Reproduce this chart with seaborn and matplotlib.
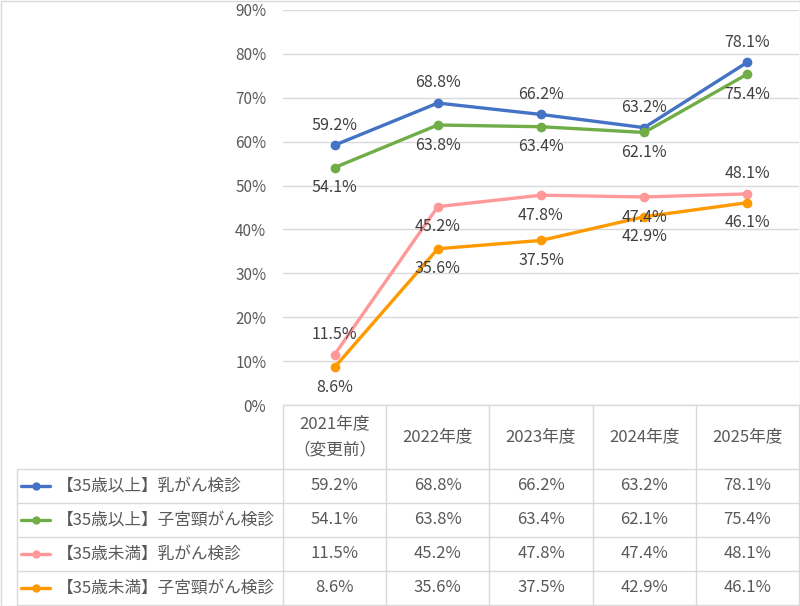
import pandas as pd
import seaborn as sns
import matplotlib.pyplot as plt
from matplotlib.lines import Line2D
from matplotlib.patches import Rectangle

# data
years = ['2021年度\n（変更前）', '2022年度', '2023年度', '2024年度', '2025年度']
series_names = ['【35歳以上】乳がん検診', '【35歳以上】子宮頸がん検診',
                '【35歳未満】乳がん検診', '【35歳未満】子宮頸がん検診']
over35_breast = [59.2, 68.8, 66.2, 63.2, 78.1]
over35_cervical = [54.1, 63.8, 63.4, 62.1, 75.4]
under35_breast = [11.5, 45.2, 47.8, 47.4, 48.1]
under35_cervical = [8.6, 35.6, 37.5, 42.9, 46.1]
all_values = [over35_breast, over35_cervical, under35_breast, under35_cervical]
colors = ['#4472C4', '#70AD47', '#FF9999', '#FF9900']
# label position above (+1) or below (-1) the point
label_side = [[1, 1, 1, 1, 1],
              [-1, -1, -1, -1, -1],
              [1, -1, -1, -1, 1],
              [-1, -1, -1, -1, -1]]

rows = []
for name, vals in zip(series_names, all_values):
    for i, v in enumerate(vals):
        rows.append({'x': i, 'value': v, 'series': name})
df = pd.DataFrame(rows)

sns.set_style('white')
plt.rcParams['font.family'] = ['Noto Sans CJK JP', 'DejaVu Sans']
txt_col = '#595959'
grid_col = '#D9D9D9'

W, H = 800, 606
fig = plt.figure(figsize=(W / 100, H / 100), dpi=100)

# background layer in pixel coords for the data table
bg = fig.add_axes([0, 0, 1, 1])
bg.set_xlim(0, W)
bg.set_ylim(H, 0)
bg.axis('off')

left, right, top, bottom = 283, 799, 10, 405
ax = fig.add_axes([left / W, (H - bottom) / H, (right - left) / W, (bottom - top) / H])
ax.patch.set_alpha(0)

sns.lineplot(data=df, x='x', y='value', hue='series', palette=colors,
             hue_order=series_names, marker='o', markersize=7,
             markeredgewidth=0, linewidth=2.4, legend=False, ax=ax)

ax.set_xlim(-0.5, 4.5)
ax.set_ylim(0, 90)
ax.set_yticks(range(0, 91, 10))
ax.set_yticklabels([f'{t}%' for t in range(0, 91, 10)], color=txt_col, fontsize=11)
ax.tick_params(axis='y', length=0, pad=12)
ax.set_xticks([])
ax.set_xlabel('')
ax.set_ylabel('')
ax.grid(axis='y', color=grid_col, linewidth=1)
ax.set_axisbelow(True)
for s in ax.spines.values():
    s.set_visible(False)

for vals, sides in zip(all_values, label_side):
    for i, (v, sd) in enumerate(zip(vals, sides)):
        ax.annotate(f'{v:.1f}%', (i, v), xytext=(0, 14.5 * sd), textcoords='offset points',
                    ha='center', va='center', fontsize=11.5, color='#404040')

# data table
col_w = (right - left) / 5
header_bot = 469
row_h = 34
table_bot = header_bot + row_h * 4
leg_left = 17

bg.plot([left, right], [bottom, bottom], color=grid_col, lw=1)
for k in range(6):
    xk = left + k * col_w
    bg.plot([xk, xk], [bottom, table_bot], color=grid_col, lw=1)
for r in range(5):
    yr = header_bot + r * row_h
    bg.plot([leg_left, right], [yr, yr], color=grid_col, lw=1)
bg.plot([leg_left, leg_left], [header_bot, table_bot], color=grid_col, lw=1)

for k, yl in enumerate(years):
    bg.text(left + (k + 0.5) * col_w, (bottom + header_bot) / 2, yl, ha='center',
            va='center', fontsize=12, color=txt_col, linespacing=1.75)

for r, (name, vals, c) in enumerate(zip(series_names, all_values, colors)):
    yc = header_bot + (r + 0.5) * row_h
    bg.add_line(Line2D([21, 50], [yc, yc], color=c, lw=2.4))
    bg.plot([35.5], [yc], marker='o', color=c, markersize=6, markeredgewidth=0)
    bg.text(57, yc, name, ha='left', va='center', fontsize=12, color=txt_col)
    for k, v in enumerate(vals):
        bg.text(left + (k + 0.5) * col_w, yc, f'{v:.1f}%', ha='center', va='center',
                fontsize=12, color=txt_col)

# outer border
bg.add_patch(Rectangle((0.5, 0.5), W - 1, H - 1, fill=False, edgecolor=grid_col, lw=1))

fig.savefig('out.png', dpi=100)
